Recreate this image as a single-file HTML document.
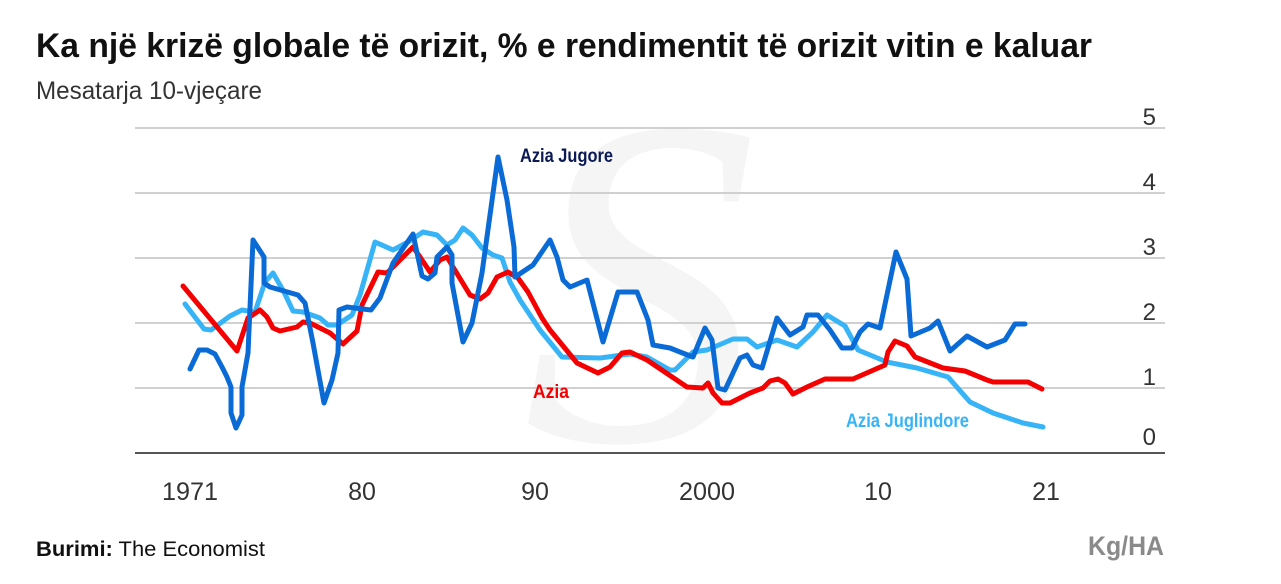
<!DOCTYPE html>
<html><head><meta charset="utf-8"><style>
html,body{margin:0;padding:0;background:#fff;}
svg{display:block;}
text{font-family:"Liberation Sans Narrow","Liberation Sans",sans-serif;}
</style></head><body>
<svg width="1281" height="584" viewBox="0 0 1281 584" xmlns="http://www.w3.org/2000/svg">
<rect width="1281" height="584" fill="#fff"/>
<text x="640" y="440" font-style="italic" font-size="470" fill="#f5f5f5" text-anchor="middle" style="font-family:'Liberation Serif',serif">S</text>
<text x="36" y="57" font-size="34" font-weight="bold" fill="#111" textLength="1056" lengthAdjust="spacingAndGlyphs">Ka një krizë globale të orizit, % e rendimentit të orizit vitin e kaluar</text>
<text x="36" y="99" font-size="25" fill="#333" textLength="226" lengthAdjust="spacingAndGlyphs">Mesatarja 10-vjeçare</text>
<g stroke="#d0d0d0" stroke-width="2">
<line x1="135" y1="128" x2="1165" y2="128"/>
<line x1="135" y1="193" x2="1165" y2="193"/>
<line x1="135" y1="258" x2="1165" y2="258"/>
<line x1="135" y1="323" x2="1165" y2="323"/>
<line x1="135" y1="388" x2="1165" y2="388"/>
</g>
<line x1="135" y1="453" x2="1165" y2="453" stroke="#555" stroke-width="2"/>
<g font-size="24" fill="#333" text-anchor="end">
<text x="1156" y="125">5</text>
<text x="1156" y="190">4</text>
<text x="1156" y="255">3</text>
<text x="1156" y="320">2</text>
<text x="1156" y="385">1</text>
<text x="1156" y="445">0</text>
</g>
<g font-size="25" fill="#333" text-anchor="middle">
<text x="190" y="500" textLength="56" lengthAdjust="spacingAndGlyphs">1971</text>
<text x="362" y="500">80</text>
<text x="535" y="500">90</text>
<text x="707" y="500" textLength="56" lengthAdjust="spacingAndGlyphs">2000</text>
<text x="878" y="500">10</text>
<text x="1046" y="500">21</text>
</g>
<g fill="none" stroke-width="5" stroke-linejoin="round" stroke-linecap="round">
<polyline stroke="#36b4f7" points="185,304 204,329 211,330 230,316 242,310 255,312 265,282 273,273 284,292 293,311 303,312 320,318 328,325 337,325 352,315 360,295 375,242 393,250 408,242 423,232 437,235 447,245 455,240 463,228 472,235 482,248 493,255 502,258 510,282 520,300 540,330 562,357 600,358 630,354 647,357 670,370 675,370 693,352 707,350 733,339 747,339 757,347 777,340 797,347 813,332 827,315 845,326 858,350 887,362 917,368 948,377 970,402 993,413 1023,423 1043,427"/>
<polyline stroke="#f50000" points="183,286 237,351 248,318 260,310 267,317 273,328 280,331 297,327 303,322 310,323 330,333 343,344 357,331 362,305 378,272 387,273 398,262 413,247 420,257 430,272 440,260 447,257 453,267 470,295 480,299 488,293 497,277 508,272 518,278 528,292 542,318 550,330 577,363 598,373 610,367 622,353 630,352 647,360 687,387 703,388 708,383 713,393 722,403 730,403 750,393 763,388 770,381 778,379 785,383 793,394 807,387 825,379 853,379 885,365 888,352 895,341 907,346 915,357 943,368 965,371 987,380 993,382 1028,382 1042,389"/>
<polyline stroke="#0a6bd6" points="190,369 199,350 207,350 215,354 222,367 227,377 231,387 231,413 236,428 242,415 242,387 248,353 253,240 264,257 264,283 270,287 298,295 305,303 313,343 324,403 332,380 338,353 339,310 347,307 371,310 380,298 393,263 413,234 422,276 428,279 435,273 437,257 447,247 452,255 452,283 463,342 472,323 482,273 498,157 507,200 514,247 515,277 533,265 550,240 557,257 563,280 570,287 587,280 603,342 618,292 637,292 648,320 653,345 670,348 680,352 693,357 705,328 712,340 718,388 725,390 740,358 747,355 753,365 762,368 777,318 790,335 803,327 807,315 818,315 830,330 842,348 852,348 860,332 868,324 880,328 896,252 907,279 911,336 930,328 938,321 950,351 967,336 987,347 1005,340 1015,324 1025,324"/>
</g>
<text x="520" y="162" font-size="19" font-weight="bold" fill="#0b1a55" textLength="93" lengthAdjust="spacingAndGlyphs">Azia Jugore</text>
<text x="533" y="398" font-size="19" font-weight="bold" fill="#f50000" textLength="36" lengthAdjust="spacingAndGlyphs">Azia</text>
<text x="846" y="427" font-size="19" font-weight="bold" fill="#36b4f7" textLength="123" lengthAdjust="spacingAndGlyphs">Azia Juglindore</text>
<text x="36" y="556" font-size="21" fill="#111" textLength="229" lengthAdjust="spacingAndGlyphs" style="font-family:'Liberation Sans',sans-serif"><tspan font-weight="bold">Burimi:</tspan> The Economist</text>
<text x="1164" y="555" font-size="27" font-weight="bold" fill="#8a8a8a" text-anchor="end" textLength="76" lengthAdjust="spacingAndGlyphs">Kg/HA</text>
</svg>
</body></html>
